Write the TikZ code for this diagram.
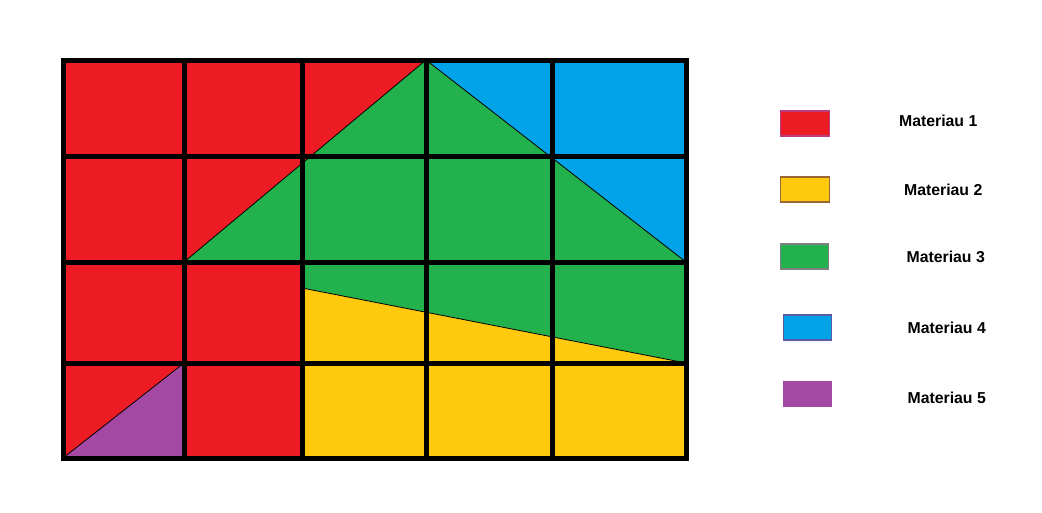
\documentclass[tikz,border=0pt]{standalone}
\usepackage{fontspec}
\setmainfont{Liberation Sans}
\usepackage{tikz}
\usetikzlibrary{positioning}
\definecolor{matred}{RGB}{237,28,36}
\definecolor{matyellow}{RGB}{255,201,14}
\definecolor{matgreen}{RGB}{34,177,76}
\definecolor{matblue}{RGB}{0,162,232}
\definecolor{matpurple}{RGB}{163,73,164}
\tikzset{
  gridline/.style={line width=0.1cm, black},
  cutline/.style={line width=0.45pt, black},
  swatch/.style={rectangle, line width=0.6pt, minimum width=0.97cm, minimum height=0.5cm, inner sep=0pt},
  legendtext/.style={font=\fontsize{9}{11}\selectfont\bfseries, inner sep=0pt},
}

\begin{document}
\begin{tikzpicture}[x=0.02cm, y=-0.02cm]
\useasboundingbox (0,0) rectangle (1042,512);
% material zones
\fill[matred] (63,60) rectangle (686,458);
\fill[matblue] (426,60) -- (686,60) -- (686,262) -- cycle;
\fill[matgreen] (184,262) -- (426,60) -- (686,262) -- (686,363) -- (302,288) -- (302,262) -- cycle;
\fill[matyellow] (302,288) -- (686,363) -- (686,458) -- (302,458) -- cycle;
\fill[matpurple] (63,458) -- (184,363) -- (184,458) -- cycle;
\draw[cutline] (184,262) -- (426,60) -- (686,262);
\draw[cutline] (302,288) -- (686,363);
\draw[cutline] (63,458) -- (184,363);
% grid
\foreach \x in {184,302,426,552}
  \draw[gridline] (\x,60) -- (\x,458);
\foreach \y in {156,262,363}
  \draw[gridline] (63,\y) -- (686,\y);
\draw[gridline] (63,60) rectangle (686,458);
% legend
\node[swatch, fill=matred, draw=matpurple!70!matred] (sw1) at (805,123.5) {};
\node[swatch, fill=matyellow, draw=brown!80!black] (sw2) at (805,189.5) {};
\node[swatch, fill=matgreen, draw=gray] (sw3) at (804.5,256.5) {};
\node[swatch, fill=matblue, draw=blue!30!gray] (sw4) at (807.5,327.5) {};
\node[swatch, fill=matpurple, draw=matpurple] (sw5) at (807.5,394) {};
\node[legendtext, right=1.38cm of sw1, yshift=0.05cm] (lab1) {Materiau 1};
\node[legendtext, right=1.48cm of sw2] (lab2) {Materiau 2};
\node[legendtext, right=1.54cm of sw3] (lab3) {Materiau 3};
\node[legendtext, right=1.5cm of sw4] (lab4) {Materiau 4};
\node[legendtext, right=1.5cm of sw5, yshift=-0.08cm] (lab5) {Materiau 5};
\end{tikzpicture}
\end{document}
